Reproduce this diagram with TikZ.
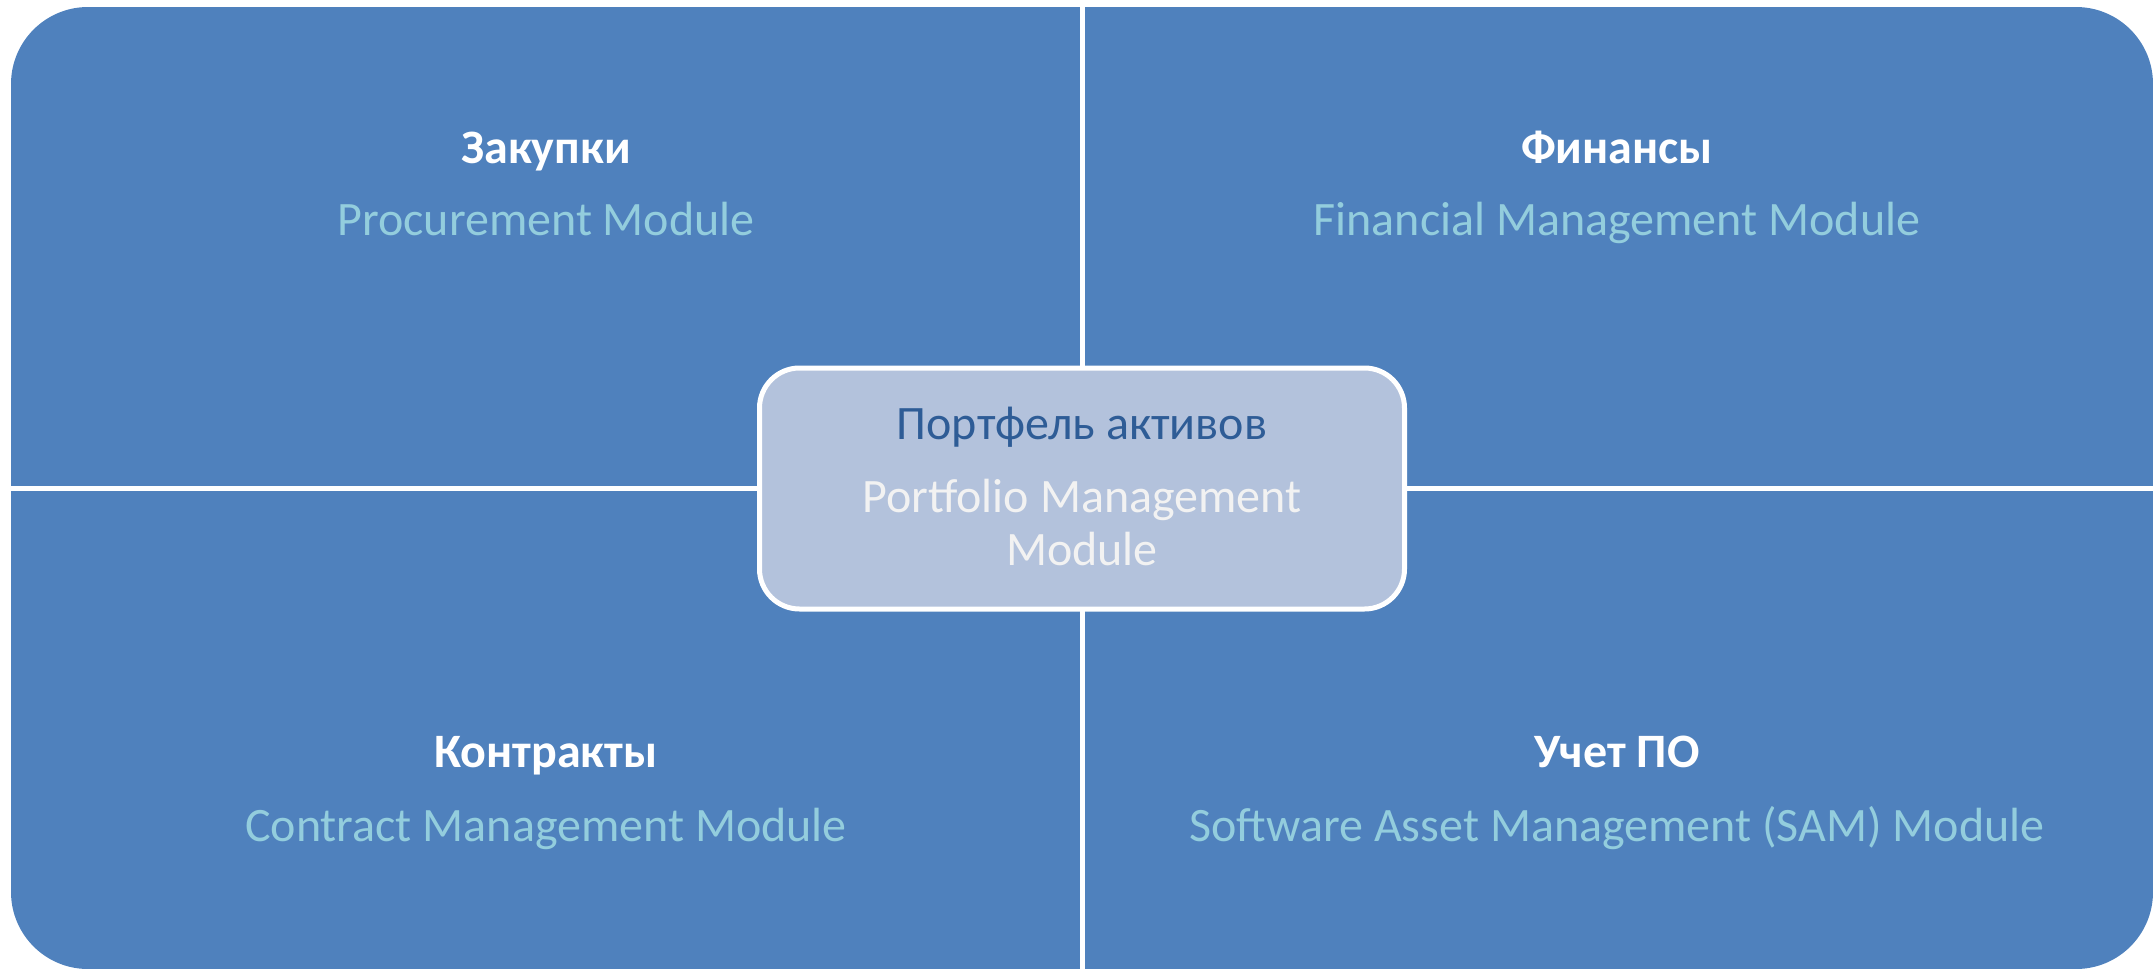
\documentclass[tikz,border=0pt]{standalone}
\usepackage{fontspec}
\setmainfont{Carlito}
\definecolor{quad}{HTML}{4F81BD}
\definecolor{subtxt}{HTML}{93CDDD}
\definecolor{centfill}{HTML}{B3C2DC}
\definecolor{centhead}{HTML}{2E5C96}
\definecolor{centsub}{HTML}{F2F2F2}
\tikzset{
  head/.style={anchor=base, text=white, font=\fontsize{48}{58}\selectfont\bfseries, inner sep=0pt},
  sub/.style={anchor=base, text=subtxt, font=\fontsize{48}{58}\selectfont, inner sep=0pt},
  ctext/.style={anchor=base, font=\fontsize{48}{58}\selectfont, inner sep=0pt},
  divider/.style={draw=white, line width=5pt},
}
\begin{document}
\begin{tikzpicture}[x=1pt, y=-1pt]
\useasboundingbox (0,0) rectangle (2153,969);
\fill[quad, rounded corners=77pt] (11,7) rectangle (2153,969);
\coordinate (vt) at (1082,0);
\coordinate (vb) at (1082,969);
\coordinate (hl) at (11,488);
\coordinate (hr) at (2153,488);
\draw[divider] (vt) -- (vb);
\draw[divider] (hl) -- (hr);
\node[draw=white, line width=5pt, fill=centfill, rounded corners=40pt, minimum width=645pt, minimum height=241pt] (center) at (1082,488.5) {};
\node[ctext, text=centhead] (ch) at (1082,439) {Портфель активов};
\node[ctext, text=centsub] (cs1) at (1082,512) {Portfolio Management};
\node[ctext, text=centsub] (cs2) at (1082,565) {Module};
\node[head] (h1) at (546,163) {Закупки};
\node[sub] (s1) at (546,235) {Procurement Module};
\node[head] (h2) at (1617,163) {Финансы};
\node[sub] (s2) at (1617,235) {Financial Management Module};
\node[head] (h3) at (546,767) {Контракты};
\node[sub] (s3) at (546,841) {Contract Management Module};
\node[head] (h4) at (1617,767) {Учет ПО};
\node[sub] (s4) at (1617,841) {Software Asset Management (SAM) Module};
\end{tikzpicture}
\end{document}
